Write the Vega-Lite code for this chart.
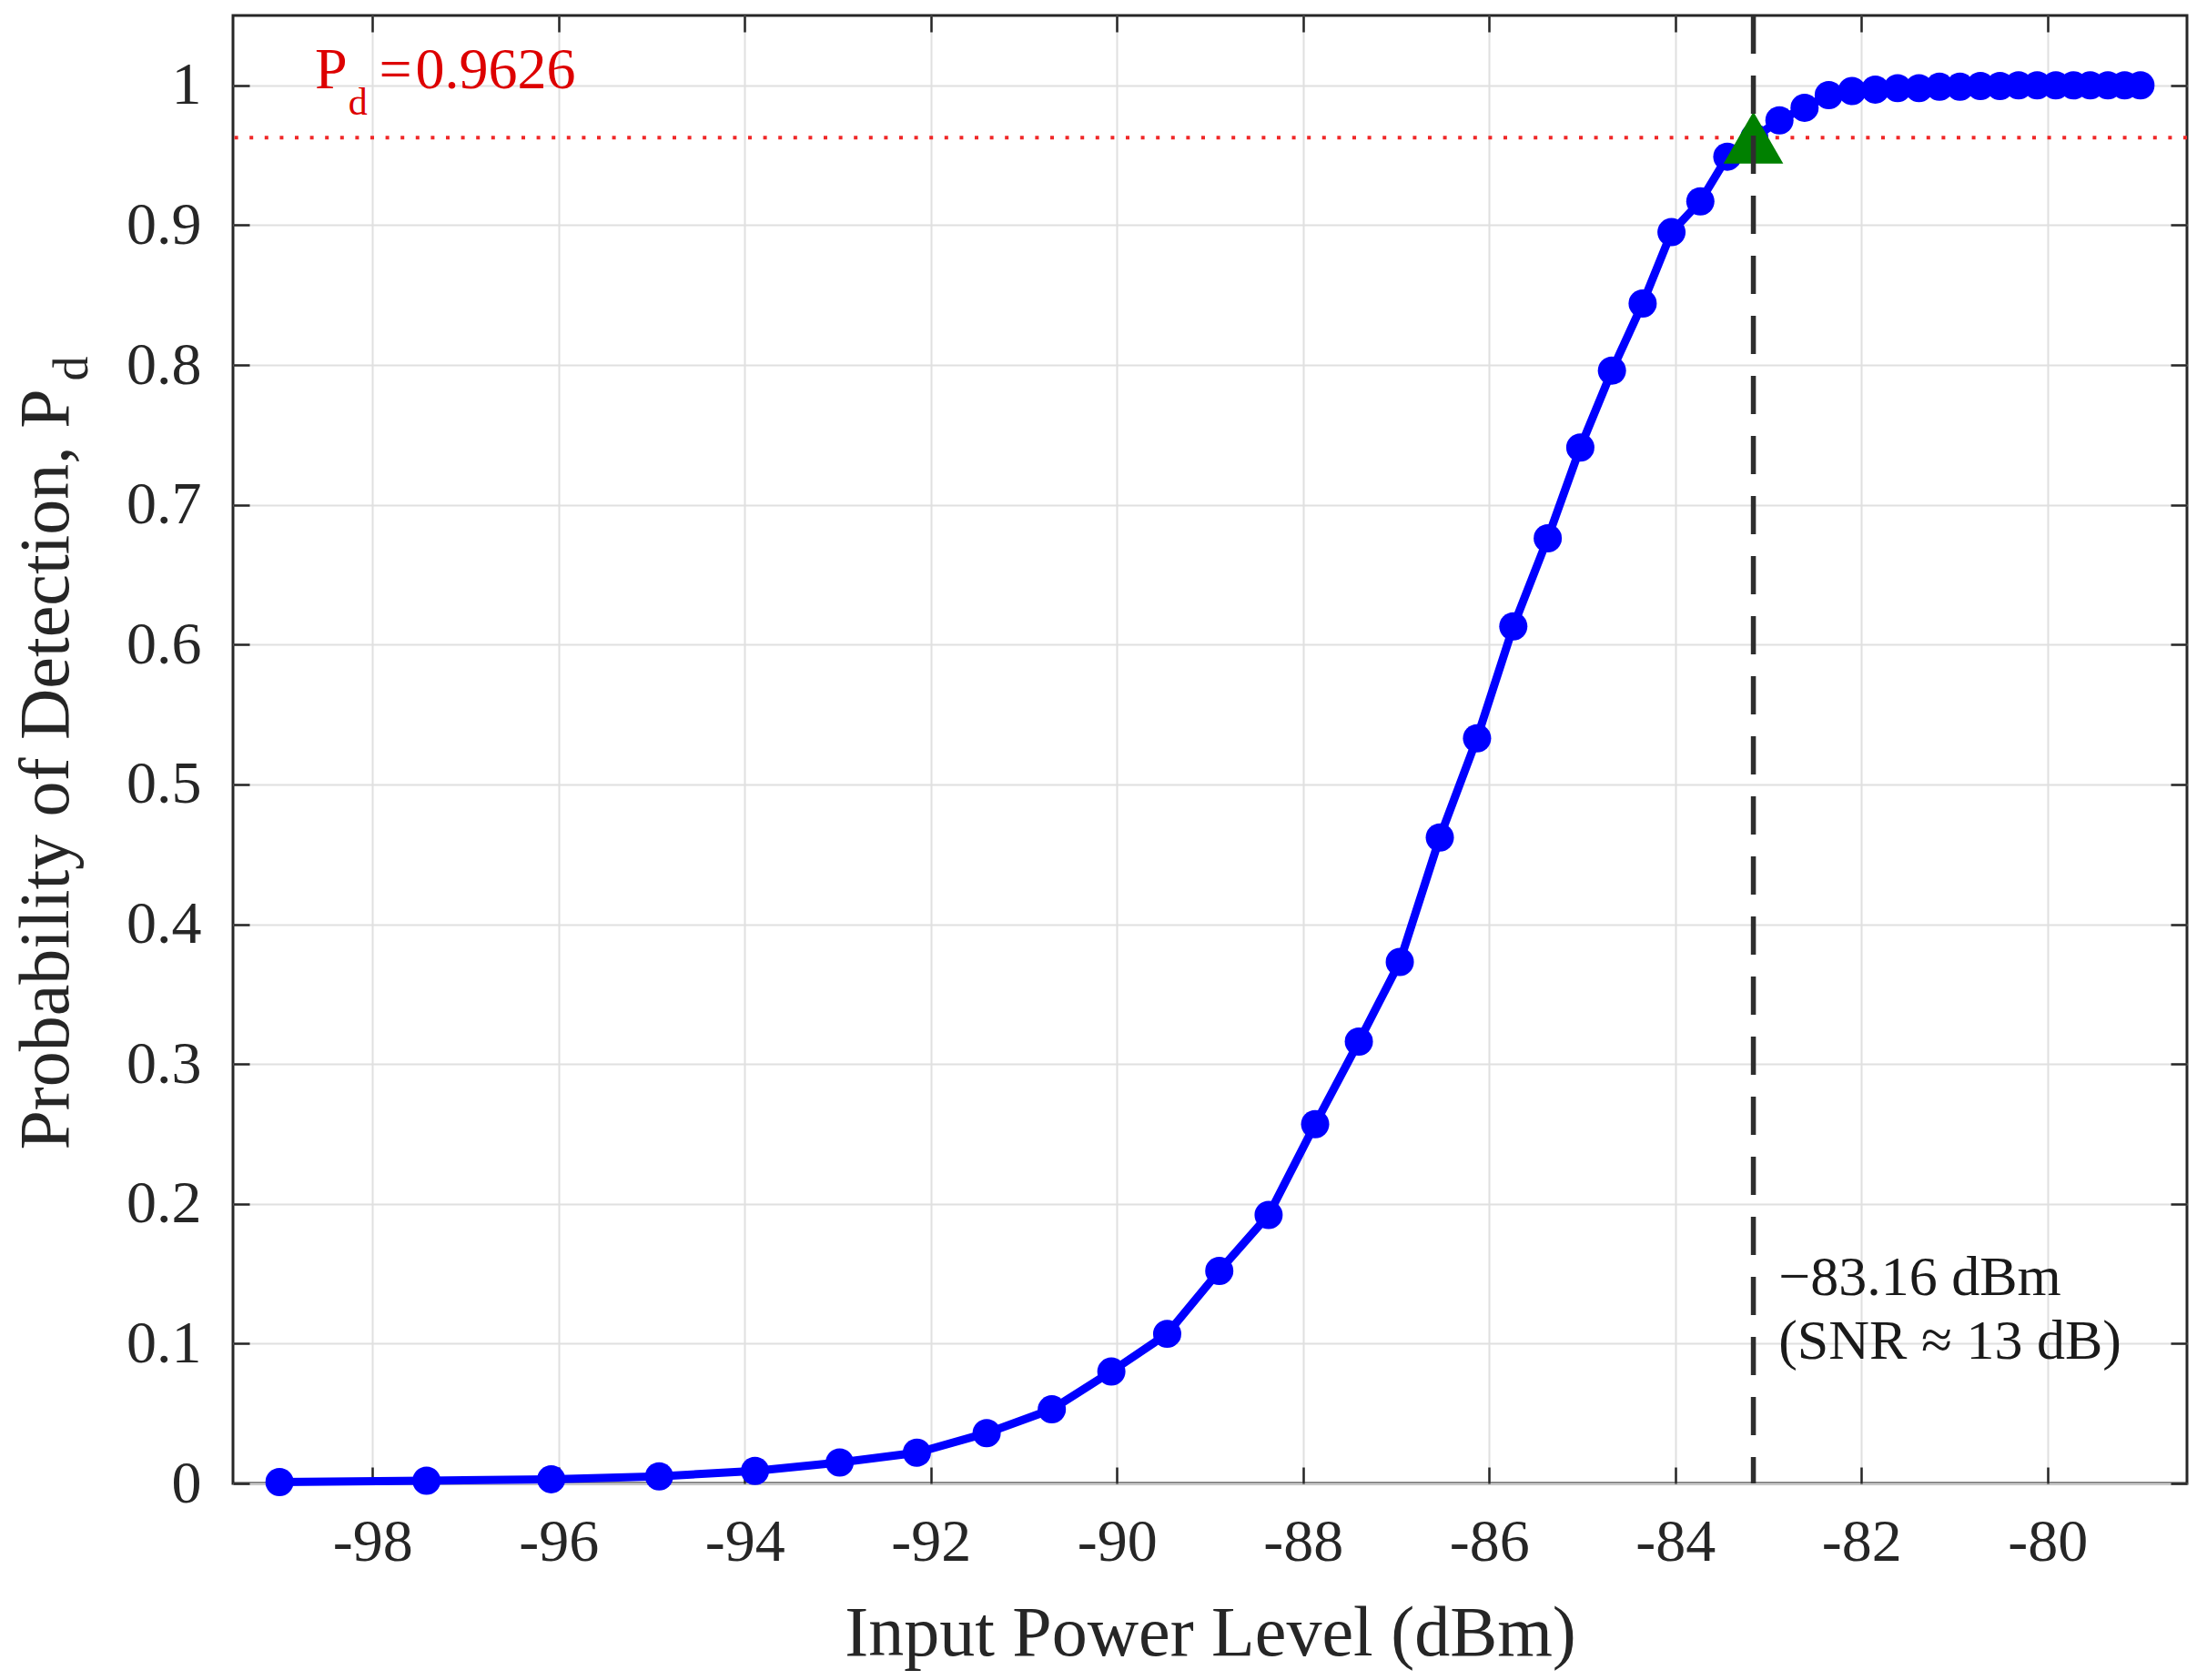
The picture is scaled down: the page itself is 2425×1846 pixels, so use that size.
{
  "$schema": "https://vega.github.io/schema/vega-lite/v6.json",
  "width": 2147,
  "height": 1613,
  "autosize": {"type": "none"},
  "padding": {"left": 256, "top": 17, "right": 22, "bottom": 216},
  "background": "white",
  "config": {
    "view": {"stroke": "#262626", "strokeWidth": 3},
    "font": "Liberation Serif"
  },
  "datasets": {
    "curve": [
      {"p": -99.00, "pd": 0.001}, {"p": -97.42, "pd": 0.002}, {"p": -96.08, "pd": 0.003},
      {"p": -94.92, "pd": 0.005}, {"p": -93.89, "pd": 0.009}, {"p": -92.98, "pd": 0.015},
      {"p": -92.15, "pd": 0.022}, {"p": -91.40, "pd": 0.036}, {"p": -90.70, "pd": 0.053},
      {"p": -90.06, "pd": 0.080}, {"p": -89.46, "pd": 0.107}, {"p": -88.90, "pd": 0.152},
      {"p": -88.37, "pd": 0.192}, {"p": -87.87, "pd": 0.257}, {"p": -87.40, "pd": 0.316},
      {"p": -86.96, "pd": 0.373}, {"p": -86.53, "pd": 0.462}, {"p": -86.13, "pd": 0.533},
      {"p": -85.74, "pd": 0.613}, {"p": -85.37, "pd": 0.676}, {"p": -85.02, "pd": 0.741},
      {"p": -84.68, "pd": 0.796}, {"p": -84.35, "pd": 0.844}, {"p": -84.04, "pd": 0.895},
      {"p": -83.73, "pd": 0.917}, {"p": -83.44, "pd": 0.949}, {"p": -83.15, "pd": 0.9626},
      {"p": -82.88, "pd": 0.975}, {"p": -82.61, "pd": 0.984}, {"p": -82.35, "pd": 0.993},
      {"p": -82.10, "pd": 0.996}, {"p": -81.85, "pd": 0.997}, {"p": -81.61, "pd": 0.998},
      {"p": -81.38, "pd": 0.998}, {"p": -81.16, "pd": 0.999}, {"p": -80.94, "pd": 0.999},
      {"p": -80.72, "pd": 0.9995}, {"p": -80.51, "pd": 0.9995}, {"p": -80.31, "pd": 1.0},
      {"p": -80.11, "pd": 1.0}, {"p": -79.91, "pd": 1.0}, {"p": -79.72, "pd": 1.0},
      {"p": -79.54, "pd": 1.0}, {"p": -79.35, "pd": 1.0}, {"p": -79.17, "pd": 1.0},
      {"p": -79.00, "pd": 1.0}
    ],
    "marker": [{"p": -83.16, "pd": 0.9626}],
    "note": [
      {"p": -82.89, "pd": 0.135, "t": "−83.16 dBm"},
      {"p": -82.89, "pd": 0.089, "t": "(SNR ≈ 13 dB)"}
    ],
    "pdeq": [{"p": -97.93, "pd": 0.9976, "t": "="}],
    "pdval": [{"p": -97.54, "pd": 0.9976, "t": "0.9626"}],
    "pdp": [{"p": -98.62, "pd": 0.9976, "t": "P"}],
    "pdsub": [{"p": -98.26, "pd": 0.979, "t": "d"}],
    "ysub": [{"p": -101.065, "pd": 0.7975, "t": "d"}]
  },
  "resolve": {"axis": {"x": "independent", "y": "independent"}},
  "layer": [
    {
      "data": {"name": "marker"},
      "mark": {"type": "rule", "color": "#f02828", "strokeWidth": 4, "strokeDash": [4, 12.6]},
      "encoding": {
        "y": {"field": "pd", "type": "quantitative", "scale": {"domain": [0, 1.05], "nice": false, "zero": false}, "axis": null}
      }
    },
    {
      "data": {"name": "curve"},
      "mark": {"type": "line", "color": "#0000ff", "strokeWidth": 9, "point": {"filled": true, "size": 960, "color": "#0000ff", "opacity": 1}},
      "encoding": {
        "x": {
          "field": "p", "type": "quantitative",
          "scale": {"domain": [-99.5, -78.5], "nice": false, "zero": false},
          "axis": {
            "orient": "bottom",
            "values": [-98, -96, -94, -92, -90, -88, -86, -84, -82, -80],
            "labelExpr": "'' + datum.value",
            "labelFont": "Liberation Serif", "labelFontSize": 66, "labelColor": "#262626",
            "labelBaseline": "alphabetic", "labelPadding": 102,
            "tickSize": -18, "tickWidth": 2.5, "tickColor": "#262626",
            "grid": true, "gridColor": "#e0e0e0", "gridWidth": 2,
            "domain": false,
            "title": "Input Power Level (dBm)",
            "titleFont": "Liberation Serif", "titleFontSize": 78, "titleFontWeight": "normal", "titleColor": "#262626",
            "titleX": 1073.5, "titleY": 188, "titleBaseline": "alphabetic", "titleAlign": "center"
          }
        },
        "y": {
          "field": "pd", "type": "quantitative",
          "scale": {"domain": [0, 1.05], "nice": false, "zero": false},
          "axis": {
            "orient": "left",
            "values": [0, 0.1, 0.2, 0.3, 0.4, 0.5, 0.6, 0.7, 0.8, 0.9, 1],
            "format": ".1~f",
            "labelFont": "Liberation Serif", "labelFontSize": 66, "labelColor": "#262626",
            "labelPadding": 53,
            "tickSize": -18, "tickWidth": 2.5, "tickColor": "#262626",
            "grid": true, "gridColor": "#e0e0e0", "gridWidth": 2,
            "domain": false,
            "title": "Probability of Detection, P",
            "titleFont": "Liberation Serif", "titleFontSize": 78, "titleFontWeight": "normal", "titleColor": "#262626",
            "titleAngle": -90, "titleX": -182, "titleY": 828, "titleBaseline": "alphabetic", "titleAlign": "center"
          }
        }
      }
    },
    {
      "data": {"name": "marker"},
      "mark": {"type": "point", "shape": "triangle-up", "filled": true, "size": 4300, "color": "#008000", "opacity": 1},
      "encoding": {
        "x": {
          "field": "p", "type": "quantitative",
          "scale": {"domain": [-99.5, -78.5], "nice": false, "zero": false},
          "axis": {
            "orient": "top",
            "values": [-98, -96, -94, -92, -90, -88, -86, -84, -82, -80],
            "labels": false, "tickSize": -18, "tickWidth": 2.5, "tickColor": "#262626",
            "grid": false, "domain": false, "title": null
          }
        },
        "y": {
          "field": "pd", "type": "quantitative",
          "scale": {"domain": [0, 1.05], "nice": false, "zero": false},
          "axis": {
            "orient": "right",
            "values": [0, 0.1, 0.2, 0.3, 0.4, 0.5, 0.6, 0.7, 0.8, 0.9, 1],
            "labels": false, "tickSize": -18, "tickWidth": 2.5, "tickColor": "#262626",
            "grid": false, "domain": false, "title": null
          }
        }
      }
    },
    {
      "data": {"name": "marker"},
      "mark": {"type": "rule", "color": "#2e2e2e", "strokeWidth": 5.5, "strokeDash": [42, 24]},
      "encoding": {
        "x": {"field": "p", "type": "quantitative", "scale": {"domain": [-99.5, -78.5], "nice": false, "zero": false}, "axis": null}
      }
    },
    {
      "data": {"name": "note"},
      "mark": {"type": "text", "align": "left", "baseline": "alphabetic", "font": "Liberation Serif", "fontSize": 62, "color": "#1a1a1a"},
      "encoding": {
        "x": {"field": "p", "type": "quantitative", "scale": {"domain": [-99.5, -78.5], "nice": false, "zero": false}, "axis": null},
        "y": {"field": "pd", "type": "quantitative", "scale": {"domain": [0, 1.05], "nice": false, "zero": false}, "axis": null},
        "text": {"field": "t"}
      }
    },
    {
      "data": {"name": "pdp"},
      "mark": {"type": "text", "align": "left", "baseline": "alphabetic", "font": "Liberation Serif", "fontSize": 64, "color": "#dd0000"},
      "encoding": {
        "x": {"field": "p", "type": "quantitative", "scale": {"domain": [-99.5, -78.5], "nice": false, "zero": false}, "axis": null},
        "y": {"field": "pd", "type": "quantitative", "scale": {"domain": [0, 1.05], "nice": false, "zero": false}, "axis": null},
        "text": {"field": "t"}
      }
    },
    {
      "data": {"name": "pdeq"},
      "mark": {"type": "text", "align": "left", "baseline": "alphabetic", "font": "Liberation Serif", "fontSize": 64, "color": "#dd0000"},
      "encoding": {
        "x": {"field": "p", "type": "quantitative", "scale": {"domain": [-99.5, -78.5], "nice": false, "zero": false}, "axis": null},
        "y": {"field": "pd", "type": "quantitative", "scale": {"domain": [0, 1.05], "nice": false, "zero": false}, "axis": null},
        "text": {"field": "t"}
      }
    },
    {
      "data": {"name": "pdval"},
      "mark": {"type": "text", "align": "left", "baseline": "alphabetic", "font": "Liberation Serif", "fontSize": 64, "color": "#dd0000"},
      "encoding": {
        "x": {"field": "p", "type": "quantitative", "scale": {"domain": [-99.5, -78.5], "nice": false, "zero": false}, "axis": null},
        "y": {"field": "pd", "type": "quantitative", "scale": {"domain": [0, 1.05], "nice": false, "zero": false}, "axis": null},
        "text": {"field": "t"}
      }
    },
    {
      "data": {"name": "pdsub"},
      "mark": {"type": "text", "align": "left", "baseline": "alphabetic", "font": "Liberation Serif", "fontSize": 42, "color": "#dd0000"},
      "encoding": {
        "x": {"field": "p", "type": "quantitative", "scale": {"domain": [-99.5, -78.5], "nice": false, "zero": false}, "axis": null},
        "y": {"field": "pd", "type": "quantitative", "scale": {"domain": [0, 1.05], "nice": false, "zero": false}, "axis": null},
        "text": {"field": "t"}
      }
    },
    {
      "data": {"name": "ysub"},
      "mark": {"type": "text", "align": "center", "baseline": "alphabetic", "angle": 270, "font": "Liberation Serif", "fontSize": 54, "color": "#262626"},
      "encoding": {
        "x": {"field": "p", "type": "quantitative", "scale": {"domain": [-99.5, -78.5], "nice": false, "zero": false}, "axis": null},
        "y": {"field": "pd", "type": "quantitative", "scale": {"domain": [0, 1.05], "nice": false, "zero": false}, "axis": null},
        "text": {"field": "t"}
      }
    }
  ]
}
